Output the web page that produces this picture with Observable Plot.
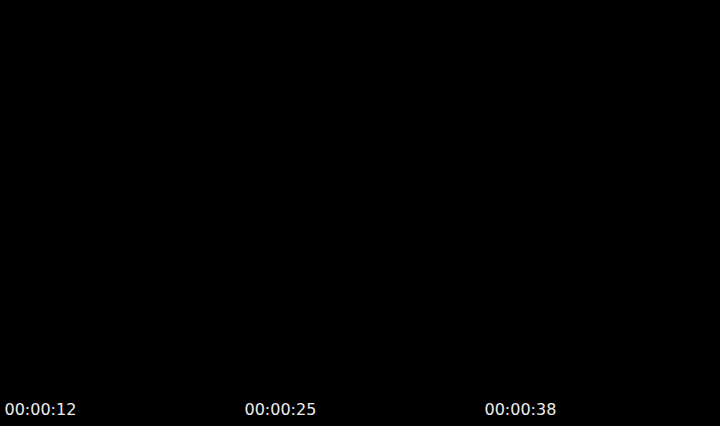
<!DOCTYPE html>
<html>
<head>
<meta charset="utf-8">
<script src="https://cdn.jsdelivr.net/npm/d3@7"></script>
<script src="https://cdn.jsdelivr.net/npm/@observablehq/plot@0.6"></script>
<style>
  html, body { margin: 0; padding: 0; background: #000; overflow: hidden; }
  #chart svg { display: block; }
</style>
</head>
<body>
<div id="chart"></div>
<script>
// Video frame strip: three black frames with their timestamps
const frameIds = ["f1", "f2", "f3"];
const timestamps = ["00:00:12", "00:00:25", "00:00:38"];
const frameColors = ["#000000", "#000000", "#000000"];

const frames = frameIds.map((id, i) => ({id, time: timestamps[i], color: frameColors[i]}));

const W = 720, H = 426;
const bandW = W / frameIds.length;

const chart = Plot.plot({
  width: W,
  height: H,
  margin: 0,
  style: {background: "#000", color: "#eee", fontFamily: "'DejaVu Sans', sans-serif", fontSize: "16px"},
  x: {type: "band", domain: frameIds, padding: 0, axis: null},
  marks: [
    Plot.cell(frames, {x: "id", fill: "color"}),
    Plot.text(frames, {
      x: "id",
      text: "time",
      frameAnchor: "bottom",
      lineAnchor: "bottom",
      textAnchor: "start",
      dx: -bandW / 2 + 4,
      dy: -12,
      fill: "#eeeeee",
      fontSize: 16
    })
  ]
});
document.getElementById("chart").appendChild(chart);
</script>
</body>
</html>
